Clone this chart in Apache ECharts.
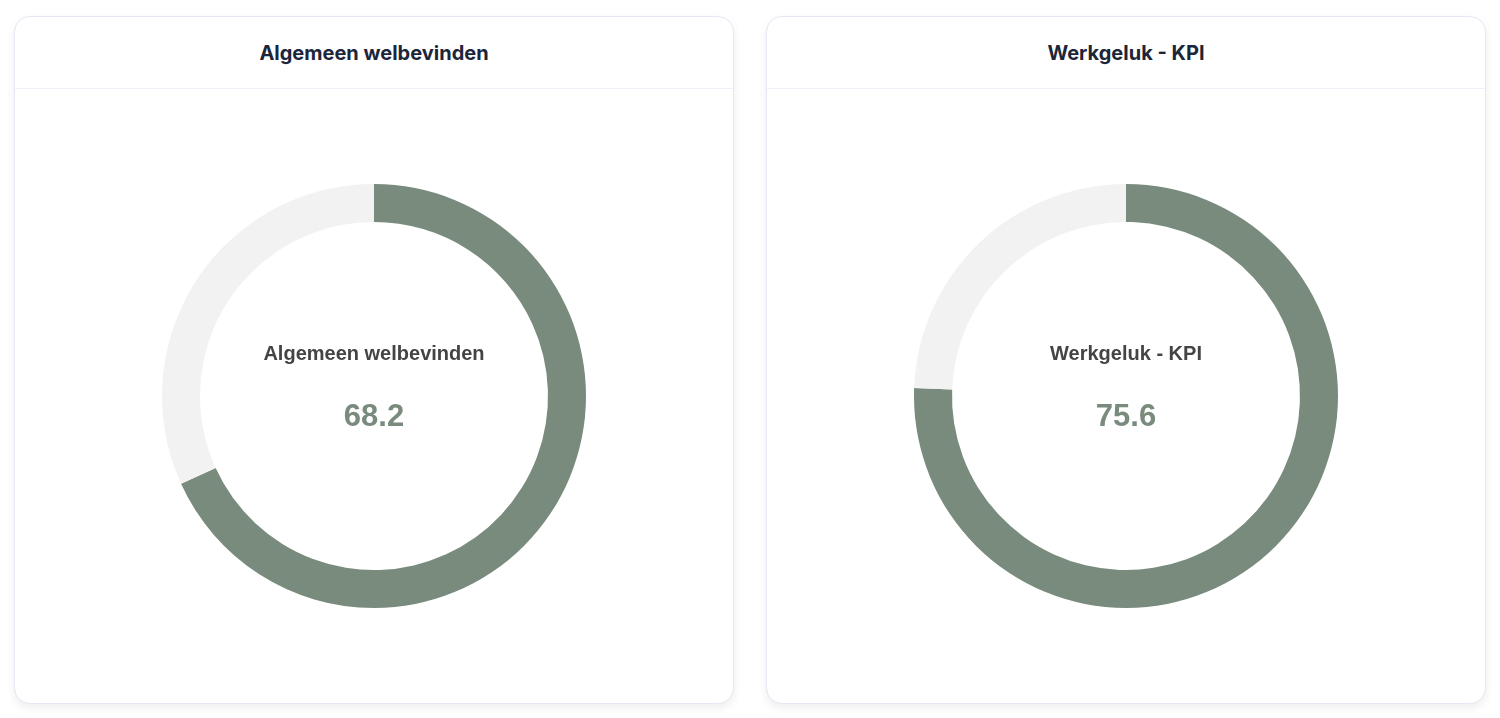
<!DOCTYPE html>
<html>
<head>
    <meta charset="utf-8">
    <title>Welbevinden</title>
    <script src="https://cdn.jsdelivr.net/npm/echarts@6/dist/echarts.min.js"></script>
    <style>
        html, body { margin: 0; padding: 0; background: #ffffff; }
        .wrap { position: relative; width: 1500px; height: 718px; }
        .card {
            position: absolute; top: 16px; width: 718px; height: 686px;
            background: #fff; border: 1px solid #e3e8f1; border-radius: 16px;
            box-shadow: 0 4px 10px rgba(0, 0, 0, 0.07);
            overflow: hidden;
        }
        .card .head {
            height: 71px; border-bottom: 1px solid #eef1f7;
            display: flex; align-items: center; justify-content: center;
            font-family: Inter, "Noto Sans", sans-serif; font-weight: 700;
            font-size: 20px; color: #1c2539;
        }
        .card .body { width: 718px; height: 614px; }
    </style>
</head>
<body>
    <div class="wrap">
        <div class="card" style="left:14px;">
            <div class="head" id="head0"></div>
            <div class="body" id="chart0"></div>
        </div>
        <div class="card" style="left:766px;">
            <div class="head" id="head1"></div>
            <div class="body" id="chart1"></div>
        </div>
    </div>
    <script type="text/javascript">
        // data
        var titles = ["Algemeen welbevinden", "Werkgeluk - KPI"];
        var scores = [68.2, 75.6];
        var maxScore = 100;

        var green = "#788b7d";
        var grey = "#f2f2f2";

        function makeDonut(idx) {
            document.getElementById("head" + idx).textContent = titles[idx];
            var chart = echarts.init(document.getElementById("chart" + idx));
            var option = {
                animation: false,
                graphic: [{
                    type: "text",
                    left: "center",
                    top: 255,
                    silent: true,
                    style: {
                        text: titles[idx],
                        font: "bold 20px 'Liberation Sans', Arial, sans-serif",
                        fill: "#444444"
                    }
                }, {
                    type: "text",
                    left: "center",
                    top: 313,
                    silent: true,
                    style: {
                        text: String(scores[idx]),
                        font: "bold 31px 'Liberation Sans', Arial, sans-serif",
                        fill: green
                    }
                }],
                series: [{
                    type: "pie",
                    radius: [174, 212],
                    center: ["50%", 307],
                    startAngle: 90,
                    clockwise: true,
                    silent: true,
                    label: { show: false },
                    labelLine: { show: false },
                    data: [
                        { value: scores[idx], name: titles[idx], itemStyle: { color: green } },
                        { value: maxScore - scores[idx], name: "rest", itemStyle: { color: grey } }
                    ]
                }]
            };
            chart.setOption(option);
        }

        makeDonut(0);
        makeDonut(1);
    </script>
</body>
</html>
